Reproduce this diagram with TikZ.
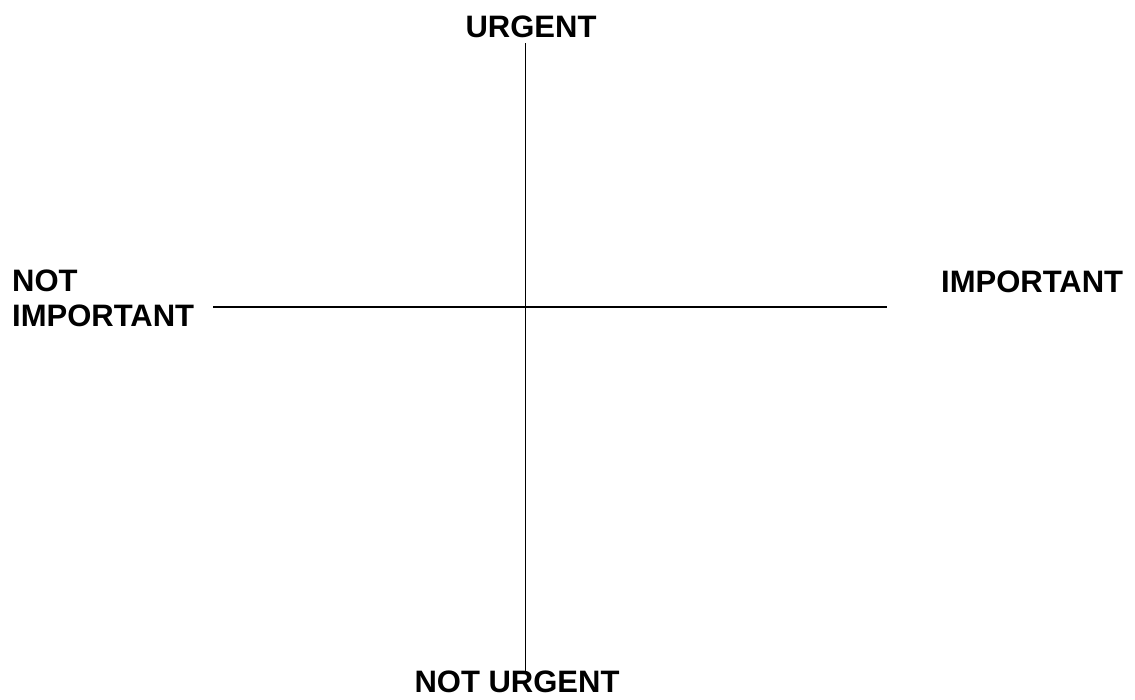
\documentclass[tikz,border=0pt]{standalone}
\usepackage{fontspec}
\setmainfont{Liberation Sans}
\usepackage{tikz}
\usetikzlibrary{positioning}

\begin{document}
\begin{tikzpicture}[x=1pt, y=-1pt,
    axislabel/.style={inner sep=0pt, font=\fontsize{31}{35}\selectfont\bfseries},
    axisline/.style={line width=1.6pt, black}]
  \useasboundingbox (0,0) rectangle (1135,699);
  % axis ends
  \coordinate (top) at (525.5,43);
  \coordinate (bot) at (525.5,674);
  \coordinate (left) at (213,307);
  \coordinate (right) at (887,307);
  \draw[axisline] (top) -- (bot);
  \draw[axisline] (left) -- (right);
  % labels
  \node[axislabel, anchor=base] (urgent) at (531,37) {URGENT};
  \node[axislabel, anchor=base] (noturgent) at (517,692) {NOT URGENT};
  \node[axislabel, anchor=base west] (important) at (941,292) {IMPORTANT};
  \node[axislabel, anchor=north west, align=left] (notimportant) at (12,270) {NOT\\IMPORTANT};
\end{tikzpicture}
\end{document}
